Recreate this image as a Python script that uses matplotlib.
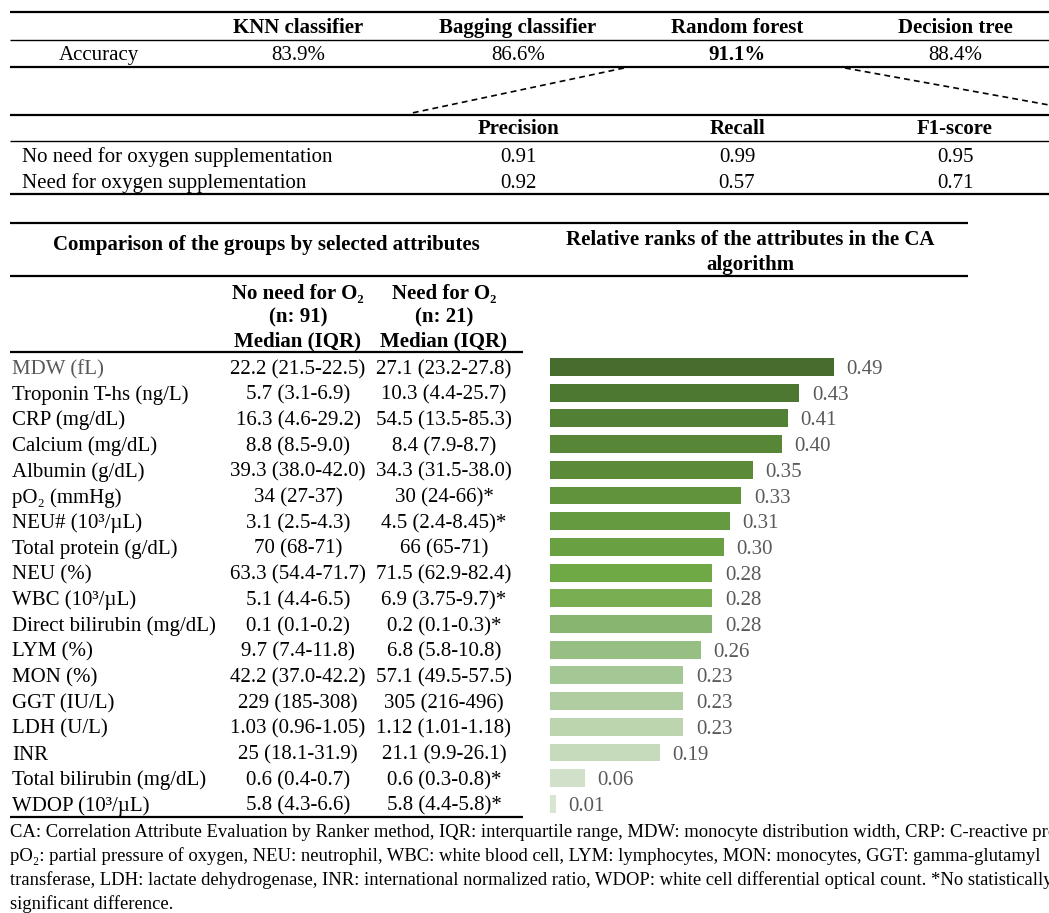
import numpy as np
import matplotlib
matplotlib.use('Agg')
import matplotlib.pyplot as plt

plt.rcParams['font.family'] = ['Liberation Serif', 'DejaVu Serif']

#=========================================================================================
# data

models = ['KNN classifier', 'Bagging classifier', 'Random forest', 'Decision tree']
accuracy = ['83.9%', '86.6%', '91.1%', '88.4%']
best_model = 'Random forest'

metric_names = ['Precision', 'Recall', 'F1-score']
class_names = ['No need for oxygen supplementation', 'Need for oxygen supplementation']
precision = [0.91, 0.92]
recall = [0.99, 0.57]
f1 = [0.95, 0.71]

attributes = ['MDW (fL)', 'Troponin T-hs (ng/L)', 'CRP (mg/dL)', 'Calcium (mg/dL)',
              'Albumin (g/dL)', 'pO\u2082 (mmHg)', 'NEU# (10\u00b3/\u00b5L)', 'Total protein (g/dL)',
              'NEU (%)', 'WBC (10\u00b3/\u00b5L)', 'Direct bilirubin (mg/dL)', 'LYM (%)',
              'MON (%)', 'GGT (IU/L)', 'LDH (U/L)', 'INR', 'Total bilirubin (mg/dL)',
              'WDOP (10\u00b3/\u00b5L)']
no_need = ['22.2 (21.5-22.5)', '5.7 (3.1-6.9)', '16.3 (4.6-29.2)', '8.8 (8.5-9.0)',
           '39.3 (38.0-42.0)', '34 (27-37)', '3.1 (2.5-4.3)', '70 (68-71)',
           '63.3 (54.4-71.7)', '5.1 (4.4-6.5)', '0.1 (0.1-0.2)', '9.7 (7.4-11.8)',
           '42.2 (37.0-42.2)', '229 (185-308)', '1.03 (0.96-1.05)', '25 (18.1-31.9)',
           '0.6 (0.4-0.7)', '5.8 (4.3-6.6)']
need = ['27.1 (23.2-27.8)', '10.3 (4.4-25.7)', '54.5 (13.5-85.3)', '8.4 (7.9-8.7)',
        '34.3 (31.5-38.0)', '30 (24-66)*', '4.5 (2.4-8.45)*', '66 (65-71)',
        '71.5 (62.9-82.4)', '6.9 (3.75-9.7)*', '0.2 (0.1-0.3)*', '6.8 (5.8-10.8)',
        '57.1 (49.5-57.5)', '305 (216-496)', '1.12 (1.01-1.18)', '21.1 (9.9-26.1)',
        '0.6 (0.3-0.8)*', '5.8 (4.4-5.8)*']
ranks = [0.49, 0.43, 0.41, 0.40, 0.35, 0.33, 0.31, 0.30, 0.28, 0.28, 0.28, 0.26,
         0.23, 0.23, 0.23, 0.19, 0.06, 0.01]
bar_colors = ['#466D2D', '#4C7831', '#528034', '#578637', '#5B8B39', '#61933D',
              '#659A40', '#69A042', '#6FA946', '#7AAE53', '#88B570', '#97BF84',
              '#A4C796', '#B0CDA2', '#BCD5AF', '#C6DBBB', '#D1E0C8', '#D8E5D0']

footnote = ['CA: Correlation Attribute Evaluation by Ranker method, IQR: interquartile range, MDW: monocyte distribution width, CRP: C-reactive protein,',
            'pO\u2082: partial pressure of oxygen, NEU: neutrophil, WBC: white blood cell, LYM: lymphocytes, MON: monocytes, GGT: gamma-glutamyl',
            'transferase, LDH: lactate dehydrogenase, INR: international normalized ratio, WDOP: white cell differential optical count. *No statistically',
            'significant difference.']

#=========================================================================================

W, H = 1049, 913
fig = plt.figure(figsize=(W / 100, H / 100), dpi=100)
ax = fig.add_axes([0, 0, 1, 1])
ax.set_xlim(0, W)
ax.set_ylim(H, 0)
ax.axis('off')

fs = 15
gray = '#595959'

def hline(y, x0, x1, lw):
    ax.plot([x0, x1], [y, y], color='black', lw=lw, solid_capstyle='butt')

def txt(x, y, s, ha='center', **kw):
    # y is the visual middle of the capitals; put baseline below it
    kw.setdefault('fontsize', fs)
    ax.text(x, y + 0.34 * kw['fontsize'] * 100 / 72, s, ha=ha, va='baseline', **kw)

# top table
col_x = [298, 518, 737, 955]
hline(12, 10, W, 1.6)
hline(40, 10, W, 1.0)
hline(67, 10, W, 1.6)
for x, m, a in zip(col_x, models, accuracy):
    txt(x, 26, m, fontweight='bold')
    txt(x, 53, a, fontweight='bold' if m == best_model else 'normal')
txt(99, 53, 'Accuracy')

# dashed zoom lines
ax.plot([624, 412], [68, 113], color='black', lw=1.2, ls=(0, (3.5, 2.5)))
ax.plot([845, W], [68, 105], color='black', lw=1.2, ls=(0, (3.5, 2.5)))

# second table
hline(115, 10, W, 1.6)
hline(141, 10, W, 1.0)
hline(194, 10, W, 1.6)
for x, name in zip(col_x[1:], metric_names):
    txt(x, 127, name, fontweight='bold')
for j, cname in enumerate(class_names):
    y = 155 + j * 26
    txt(22, y, cname, ha='left')
    for x, vals in zip(col_x[1:], [precision, recall, f1]):
        txt(x, y, '%.2f' % vals[j])

# bottom section
hline(223, 10, 968, 1.6)
hline(276, 10, 968, 1.6)
txt(266, 243, 'Comparison of the groups by selected attributes', fontweight='bold')
txt(750, 238, 'Relative ranks of the attributes in the CA', fontweight='bold')
txt(750, 263, 'algorithm', fontweight='bold')

c1, c2 = 298, 444
for x, head in [(c1, ['No need for O\u2082', '(n: 91)', 'Median (IQR)']),
                (c2, ['Need for O\u2082', '(n: 21)', 'Median (IQR)'])]:
    for k, t in enumerate(head):
        txt(x, 292 + k * 23.5, t, fontweight='bold')
hline(352, 10, 523, 1.6)

y0, dy = 367, 25.7
for i in range(len(attributes)):
    y = y0 + i * dy
    txt(12, y, attributes[i], ha='left', color=gray if i == 0 else 'black')
    txt(c1, y, no_need[i])
    txt(c2, y, need[i])
hline(817, 10, 523, 1.6)

for k, line in enumerate(footnote):
    txt(10, 831 + k * 23.8, line, ha='left', fontsize=13.4)

# bars
n = len(ranks)
top = y0 - dy / 2
bot = y0 + (n - 1) * dy + dy / 2
bx0 = 550
xmax = 0.6
bax = fig.add_axes([bx0 / W, 1 - bot / H, xmax * 580 / W, (bot - top) / H])
bax.set_xlim(0, xmax)
bax.set_ylim(n - 0.5, -0.5)
bax.axis('off')
bax.patch.set_alpha(0)
pos = np.arange(n)
bax.barh(pos, ranks, height=0.7, color=bar_colors)
for p, v in zip(pos, ranks):
    bax.annotate('%.2f' % v, (v, p), xytext=(9, -0.34 * fs), textcoords='offset points',
                 ha='left', va='baseline', fontsize=fs, color=gray)

plt.savefig('out.png', dpi=100)
